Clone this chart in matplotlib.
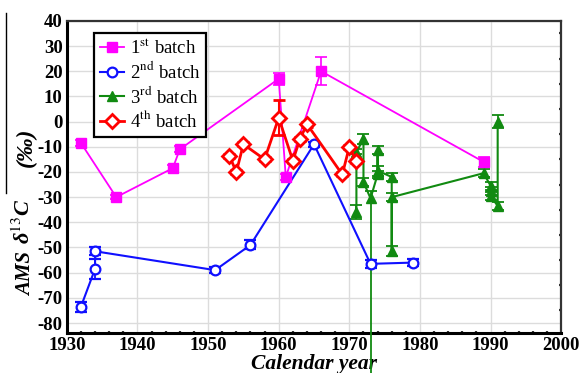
import numpy as np
import matplotlib
matplotlib.use("Agg")
import matplotlib.pyplot as plt
from matplotlib.lines import Line2D
from matplotlib.ticker import MultipleLocator, FixedLocator

plt.rcParams['font.family'] = ['Liberation Serif', 'DejaVu Serif']
plt.rcParams['mathtext.fontset'] = 'stix'
plt.rcParams['axes.unicode_minus'] = False

# 1st batch
b1_year = [1932, 1937, 1945, 1946, 1960, 1961, 1966, 1989]
b1_val = [-8.5, -30, -18.5, -11, 17, -22, 20, -16]
b1_err = [1, 0.8, 1.2, 1.2, 2.5, 1, 5.5, 2]

# 2nd batch
b2_year = [1932, 1934, 1934, 1951, 1956, 1965, 1973, 1979]
b2_val = [-73.5, -58.5, -51.5, -59, -49, -9, -56.5, -56]
b2_err = [2, 4, 1.5, 1.3, 1.8, 1, 1.5, 1.5]

# 3rd batch (asymmetric errors: lower, upper)
b3_year = [1971, 1971, 1972, 1972, 1973, 1974, 1974, 1974, 1976, 1976, 1976,
           1989, 1990, 1990, 1990, 1991, 1991]
b3_val = [-36, -12, -7, -24, -30.5, -21, -11.3, -19.5, -22, -51.5, -30,
          -20.5, -25.5, -27.5, -29.5, -33.5, 0]
b3_err_lo = [2.7, 1, 2, 1.7, 75, 1.5, 1.5, 2, 1.5, 2, 1.7,
             1.7, 1.5, 1.5, 1.5, 1.7, 2.5]
b3_err_hi = [2.7, 1, 2, 1.7, 3, 1.5, 1.5, 2, 1.5, 2, 1.7,
             1.7, 1.5, 1.5, 1.5, 1.7, 2.5]

# 4th batch
b4_year = [1953, 1954, 1955, 1958, 1960, 1962, 1963, 1964, 1969, 1970, 1971]
b4_val = [-13.5, -20, -9, -15, 1.5, -15.5, -7, -1, -21, -10, -15.7]
b4_err = [0.8, 0.8, 0.8, 0.8, 7, 0.8, 0.8, 1, 0.8, 0.8, 0.8]

fig = plt.figure(figsize=(5.81, 3.73), dpi=100)
ax = fig.add_axes([0.115, 0.107, 0.851, 0.837])

magenta = '#ff00ff'
blue = '#1010ff'
green = '#118a11'
red = '#ff0000'

# 3rd batch
eb3 = ax.errorbar(b3_year, b3_val, yerr=[b3_err_lo, b3_err_hi], color=green,
                  lw=1.5, marker='^', ms=7.5, mfc=green, mec=green,
                  capsize=4, elinewidth=1.3, capthick=1.3, zorder=3)
for c in eb3[2]:
    c.set_clip_on(False)

# 2nd batch
ax.errorbar(b2_year, b2_val, yerr=b2_err, color=blue, lw=1.5, marker='o',
            ms=7, mfc='white', mec=blue, mew=1.6,
            capsize=4, elinewidth=1.3, capthick=1.3, zorder=4)

# 1st batch
ax.errorbar(b1_year, b1_val, yerr=b1_err, color=magenta, lw=1.3, marker='s',
            ms=6.5, mfc=magenta, mec=magenta,
            capsize=4, elinewidth=1.2, capthick=1.2, zorder=5)

# 4th batch
ax.errorbar(b4_year, b4_val, yerr=b4_err, color=red, lw=2, marker='D',
            ms=7.5, mfc='white', mec=red, mew=2,
            capsize=4, elinewidth=1.5, capthick=1.5, zorder=6)

ax.set_xlim(1930, 2000)
ax.set_ylim(-84, 40)
ax.xaxis.set_major_locator(MultipleLocator(10))
ax.yaxis.set_major_locator(MultipleLocator(10))
ax.xaxis.set_minor_locator(FixedLocator([y for y in range(1932, 2000, 2) if y % 10]))
ax.yaxis.set_minor_locator(FixedLocator(np.arange(-75, 40, 10)))
ax.grid(True, which='major', color='#dcdcdc', lw=1, zorder=0)
ax.set_axisbelow(True)

ax.tick_params(which='major', length=0, labelsize=13.5, pad=3)
ax.tick_params(which='minor', direction='in', length=1.8, width=1.6,
               bottom=True, left=False, right=True, top=False, color='#333333')
for lab in ax.get_xticklabels() + ax.get_yticklabels():
    lab.set_fontweight('bold')

for side in ['top', 'right']:
    ax.spines[side].set_linewidth(1.6)
    ax.spines[side].set_color('#333333')
for side in ['left', 'bottom']:
    ax.spines[side].set_linewidth(2.2)
    ax.spines[side].set_color('black')

ax.set_xlabel('Calendar year', fontsize=15.5, fontweight='bold', style='italic',
              labelpad=0)

# y label, set in three pieces to follow the reference's wide spacing
ylab_kw = dict(rotation=90, ha='center', va='center', fontweight='bold',
               style='italic')
fig.text(26 / 581, 1 - 274 / 373, 'AMS', fontsize=15, **ylab_kw)
fig.text(24 / 581, 1 - 221 / 373, 'δ$^{13}$C', fontsize=16, **ylab_kw)
fig.text(26 / 581, 1 - 147 / 373, '(‰)', fontsize=17, **ylab_kw)

# overline left of the y label
fig.add_artist(Line2D([0.0105, 0.0105], [1 - 13 / 373, 1 - 193 / 373],
                      color='black', lw=1))

handles = [
    Line2D([], [], color=magenta, lw=1.3, marker='s', ms=6.5, mfc=magenta, mec=magenta),
    Line2D([], [], color=blue, lw=1.5, marker='o', ms=7, mfc='white', mec=blue, mew=1.6),
    Line2D([], [], color=green, lw=1.5, marker='^', ms=7.5, mfc=green, mec=green),
    Line2D([], [], color=red, lw=2, marker='D', ms=7, mfc='white', mec=red, mew=2),
]
labels = ['1$^{\\rm st}$ batch', '2$^{\\rm nd}$ batch',
          '3$^{\\rm rd}$ batch', '4$^{\\rm th}$ batch']
leg = ax.legend(handles, labels, loc='upper left', bbox_to_anchor=(0.055, 0.962),
                fontsize=13.5, frameon=True, fancybox=False, framealpha=1,
                edgecolor='black', handlelength=1.3, handletextpad=0.3,
                labelspacing=0.18, borderpad=0.3, borderaxespad=0)
leg.get_frame().set_linewidth(1.6)
leg.set_zorder(10)

fig.savefig('out.png', dpi=100)
